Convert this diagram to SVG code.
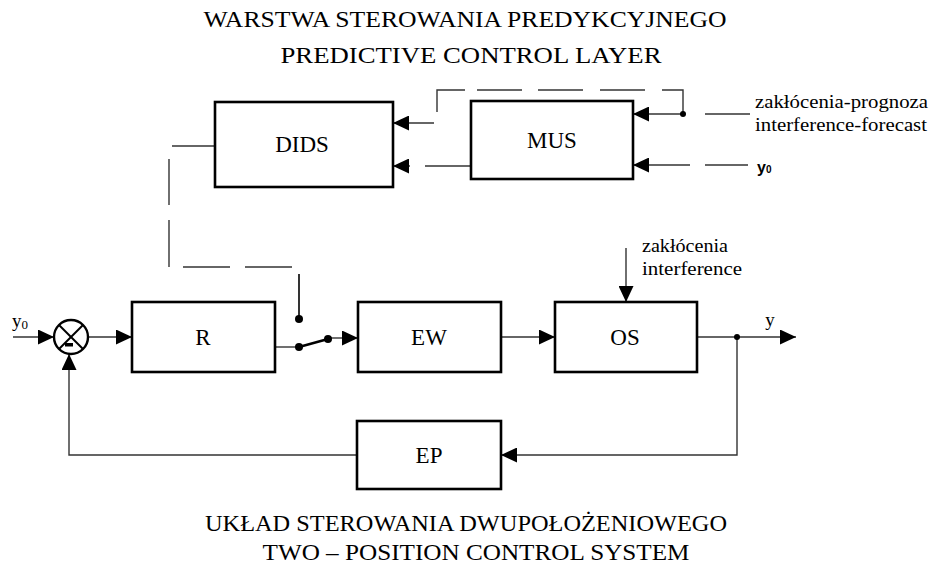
<svg xmlns="http://www.w3.org/2000/svg" width="930" height="565" viewBox="0 0 930 565">
<defs>
<marker id="ah" markerUnits="userSpaceOnUse" markerWidth="16" markerHeight="15" refX="16" refY="7.5" orient="auto">
<path d="M0,0 L16,7.5 L0,15 Z" fill="#000"/>
</marker>
</defs>
<style>
.box{fill:#fff;stroke:#000;stroke-width:2.6}
.ln{fill:none;stroke:#333;stroke-width:1.4}
.ar{fill:none;stroke:#333;stroke-width:1.4;marker-end:url(#ah)}
.lbl{font-family:"Liberation Serif","Times New Roman",serif;font-size:23px;fill:#000;text-anchor:middle}
.ttl{font-family:"Liberation Serif","Times New Roman",serif;font-size:23px;fill:#000;text-anchor:middle}
.sm{font-family:"Liberation Serif","Times New Roman",serif;font-size:19px;fill:#000}
.dot{fill:#000}
</style>
<rect width="930" height="565" fill="#fff"/>
<text class="ttl" x="465" y="27" textLength="523" lengthAdjust="spacingAndGlyphs">WARSTWA STEROWANIA PREDYKCYJNEGO</text>
<text class="ttl" x="471" y="63" textLength="381" lengthAdjust="spacingAndGlyphs">PREDICTIVE CONTROL LAYER</text>
<text class="ttl" x="466" y="531" textLength="522" lengthAdjust="spacingAndGlyphs">UKŁAD STEROWANIA DWUPOŁOŻENIOWEGO</text>
<text class="ttl" x="476" y="560" textLength="427" lengthAdjust="spacingAndGlyphs">TWO – POSITION CONTROL SYSTEM</text>
<g id="connectors">
<line class="ar" x1="13" y1="337" x2="54" y2="337"/>
<line class="ar" x1="88" y1="337" x2="132" y2="337"/>
<line class="ln" x1="275" y1="347" x2="299" y2="347"/>
<line x1="299" y1="347" x2="328" y2="339" stroke="#000" stroke-width="2.6"/>
<line class="ar" x1="328" y1="338" x2="358" y2="338"/>
<line class="ar" x1="501" y1="337" x2="555" y2="337"/>
<line class="ar" x1="697" y1="337" x2="796" y2="337"/>
<polyline class="ar" points="737,337 737,455 501,455"/>
<polyline class="ar" points="357,455 69,455 69,354"/>
<line class="ar" x1="626" y1="248" x2="626" y2="302"/>
<line class="ln" x1="172" y1="146" x2="215" y2="146"/>
<line class="ln" x1="169" y1="159" x2="169" y2="205"/>
<line class="ln" x1="169" y1="220" x2="169" y2="267"/>
<line class="ln" x1="183" y1="267" x2="230" y2="267"/>
<line class="ln" x1="245" y1="267" x2="292" y2="267"/>
<line x1="299" y1="274" x2="299" y2="319" stroke="#000" stroke-width="1.6"/>
<line class="ar" x1="683" y1="114" x2="633" y2="114"/>
<polyline class="ln" points="683,114 683,90 662,90"/>
<line class="ln" x1="645" y1="90" x2="600" y2="90"/>
<line class="ln" x1="583" y1="90" x2="538" y2="90"/>
<line class="ln" x1="522" y1="90" x2="477" y2="90"/>
<polyline class="ln" points="465,90 437,90 437,112"/>
<line class="ar" x1="434" y1="123" x2="393" y2="123"/>
<line class="ln" x1="705" y1="114" x2="750" y2="114"/>
<line class="ar" x1="690" y1="165" x2="633" y2="165"/>
<line class="ln" x1="705" y1="165" x2="748" y2="165"/>
<line class="ln" x1="471" y1="166" x2="425" y2="166"/>
<line class="ar" x1="410" y1="166" x2="393" y2="166"/>
<circle class="dot" cx="683" cy="114" r="3"/>
<circle class="dot" cx="737" cy="337" r="3"/>
<circle class="dot" cx="299" cy="319" r="4"/>
<circle class="dot" cx="299" cy="347" r="4"/>
<circle class="dot" cx="328" cy="339" r="4"/>
</g>
<g id="sum">
<circle cx="71" cy="337" r="17" fill="#fff" stroke="#000" stroke-width="2.4"/>
<line x1="59" y1="325" x2="83" y2="349" stroke="#000" stroke-width="2"/>
<line x1="83" y1="325" x2="59" y2="349" stroke="#000" stroke-width="2"/>
<rect x="65" y="343" width="8" height="3.5" fill="#000"/>
</g>
<g id="DIDS"><rect class="box" x="215" y="102" width="178" height="85"/><text class="lbl" x="302" y="152">DIDS</text></g>
<g id="MUS"><rect class="box" x="471" y="101" width="162" height="78"/><text class="lbl" x="552" y="148">MUS</text></g>
<g id="R"><rect class="box" x="132" y="302" width="143" height="70"/><text class="lbl" x="203" y="345">R</text></g>
<g id="EW"><rect class="box" x="358" y="302" width="143" height="70"/><text class="lbl" x="429" y="345">EW</text></g>
<g id="OS"><rect class="box" x="555" y="302" width="142" height="70"/><text class="lbl" x="625" y="345">OS</text></g>
<g id="EP"><rect class="box" x="357" y="421" width="144" height="68"/><text class="lbl" x="429" y="463">EP</text></g>
<g id="labels">
<text class="sm" x="12" y="327">y<tspan font-size="13" dy="2">0</tspan></text>
<text class="sm" x="770" y="326" text-anchor="middle">y</text>
<text class="sm" x="642" y="252" textLength="86" lengthAdjust="spacingAndGlyphs">zakłócenia</text>
<text class="sm" x="642" y="275" textLength="100" lengthAdjust="spacingAndGlyphs">interference</text>
<text class="sm" x="755" y="108" textLength="173" lengthAdjust="spacingAndGlyphs">zakłócenia-prognoza</text>
<text class="sm" x="755" y="131" textLength="172" lengthAdjust="spacingAndGlyphs">interference-forecast</text>
<text x="757" y="173" font-family="Liberation Sans, Arial, sans-serif" font-weight="bold" font-size="16" fill="#000">y<tspan font-size="10" dy="0">0</tspan></text>
</g>
</svg>
